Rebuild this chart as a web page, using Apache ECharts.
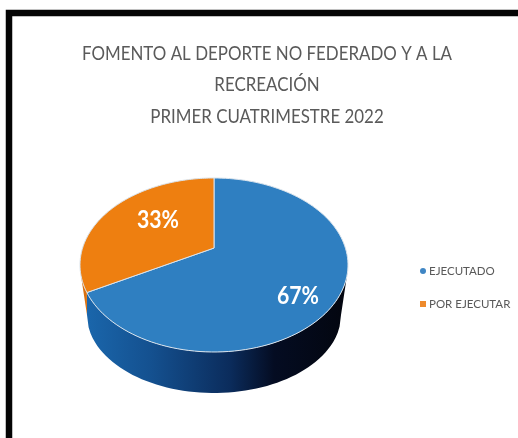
<!DOCTYPE html>
<html><head><meta charset="utf-8">
<style>html,body{margin:0;padding:0;background:#fff}#c{width:518px;height:438px}</style>
<script src="https://cdn.jsdelivr.net/npm/echarts@6/dist/echarts.min.js"></script>
</head><body><div id="c"></div>
<script>
const titleLines = ['FOMENTO AL DEPORTE NO FEDERADO Y A LA', 'RECREACIÓN', 'PRIMER CUATRIMESTRE 2022'];
const categories = ['EJECUTADO', 'POR EJECUTAR'];
const values = [67, 33];
const topColors = ['#2f7fc1', '#ee7f10'];
const legendIcons = ['circle', 'rect'];
const legendColors = ['#3f86c4', '#ee8a2c'];

const total = values.reduce((a, b) => a + b, 0);
const upper = {cx: 214, cy: 265, rx: 134, ry: 87};
const lower = {cx: 214, cy: 315, rx: 127, ry: 78};
const k = 0.195;   // perspective shift of the pie centre
const labelOffsets = [[84, 31], [-56, -45]];

function project(theta) {
  const x = Math.sin(theta), y = -Math.cos(theta), d = 1 - k * y;
  return [x * Math.sqrt(1 - k * k) / d, (y - k) / d];
}
function topPoint(theta) {
  const p = project(theta);
  return [upper.cx + upper.rx * p[0], upper.cy + upper.ry * p[1]];
}
function lowerPoint(theta) {
  const px = topPoint(theta)[0];
  const u = Math.max(-1, Math.min(1, (px - lower.cx) / lower.rx));
  return [lower.cx + lower.rx * u, lower.cy + lower.ry * Math.sqrt(1 - u * u)];
}
function sliceRenderer(index) {
  return function (params, api) {
    const v = api.value(0);
    const before = values.slice(0, index).reduce((a, b) => a + b, 0);
    const a0 = before / total * Math.PI * 2, a1 = (before + v) / total * Math.PI * 2;
    const n = 120, rim = [], low = [];
    const face = [[upper.cx, upper.cy + upper.ry * -k]];
    for (let i = 0; i <= n; i++) {
      const t = a0 + (a1 - a0) * i / n;
      face.push(topPoint(t));
      if (project(t)[1] >= 0.1) { rim.push(topPoint(t)); low.push(lowerPoint(t)); }
    }
    const children = [];
    if (rim.length > 1) {
      const fill = index === 0
        ? {type: 'linear', x: 0, y: 0, x2: 1, y2: 0, colorStops: [
            {offset: 0, color: '#1a66ab'}, {offset: 0.25, color: '#14508f'},
            {offset: 0.55, color: '#0b2c5c'}, {offset: 0.72, color: '#040c22'}, {offset: 1, color: '#03060f'}]}
        : '#d9700f';
      children.push({type: 'polygon', z2: 1, shape: {points: rim.concat(low.reverse())}, style: {fill: fill}});
    }
    children.push({type: 'polygon', z2: 10, shape: {points: face},
      style: {fill: topColors[index], stroke: '#d9e3ec', lineWidth: 1, lineJoin: 'round'}});
    children.push({type: 'text', z2: 20, x: upper.cx + labelOffsets[index][0], y: upper.cy + labelOffsets[index][1],
      scaleX: 0.85, style: {
      text: v + '%', fill: '#fff', font: '700 25px "Lato",sans-serif',
      align: 'center', verticalAlign: 'middle'}});
    return {type: 'group', children: children};
  };
}
const chart = echarts.init(document.getElementById('c'), null, {renderer: 'canvas'});
chart.setOption({
  animation: false,
  backgroundColor: '#ffffff',
  legend: {
    orient: 'vertical', left: 415, top: 260, itemGap: 21, itemWidth: 6, itemHeight: 6,
    textStyle: {fontFamily: 'Lato', fontSize: 11.5, color: '#595959', padding: [0, 0, 0, -2]},
    data: categories.map((c, i) => ({name: c, icon: legendIcons[i], itemStyle: {color: legendColors[i]}}))
  },
  graphic: [
    {type: 'text', silent: true, x: 267, y: 38, scaleX: 0.89, style: {
      text: titleLines.join('\n'), align: 'center', font: '19px Lato', lineHeight: 31.5, fill: '#5a5a5a'}},
    {type: 'rect', silent: true, z: 100,
    shape: {x: 9, y: 13, width: 540, height: 470},
    style: {fill: 'none', stroke: '#050505', lineWidth: 6.5}}],
  series: categories.map((c, i) => ({
    type: 'custom', name: c, coordinateSystem: 'none',
    itemStyle: {color: topColors[i]},
    renderItem: sliceRenderer(i), data: [[values[i]]]
  }))
});
</script></body></html>
